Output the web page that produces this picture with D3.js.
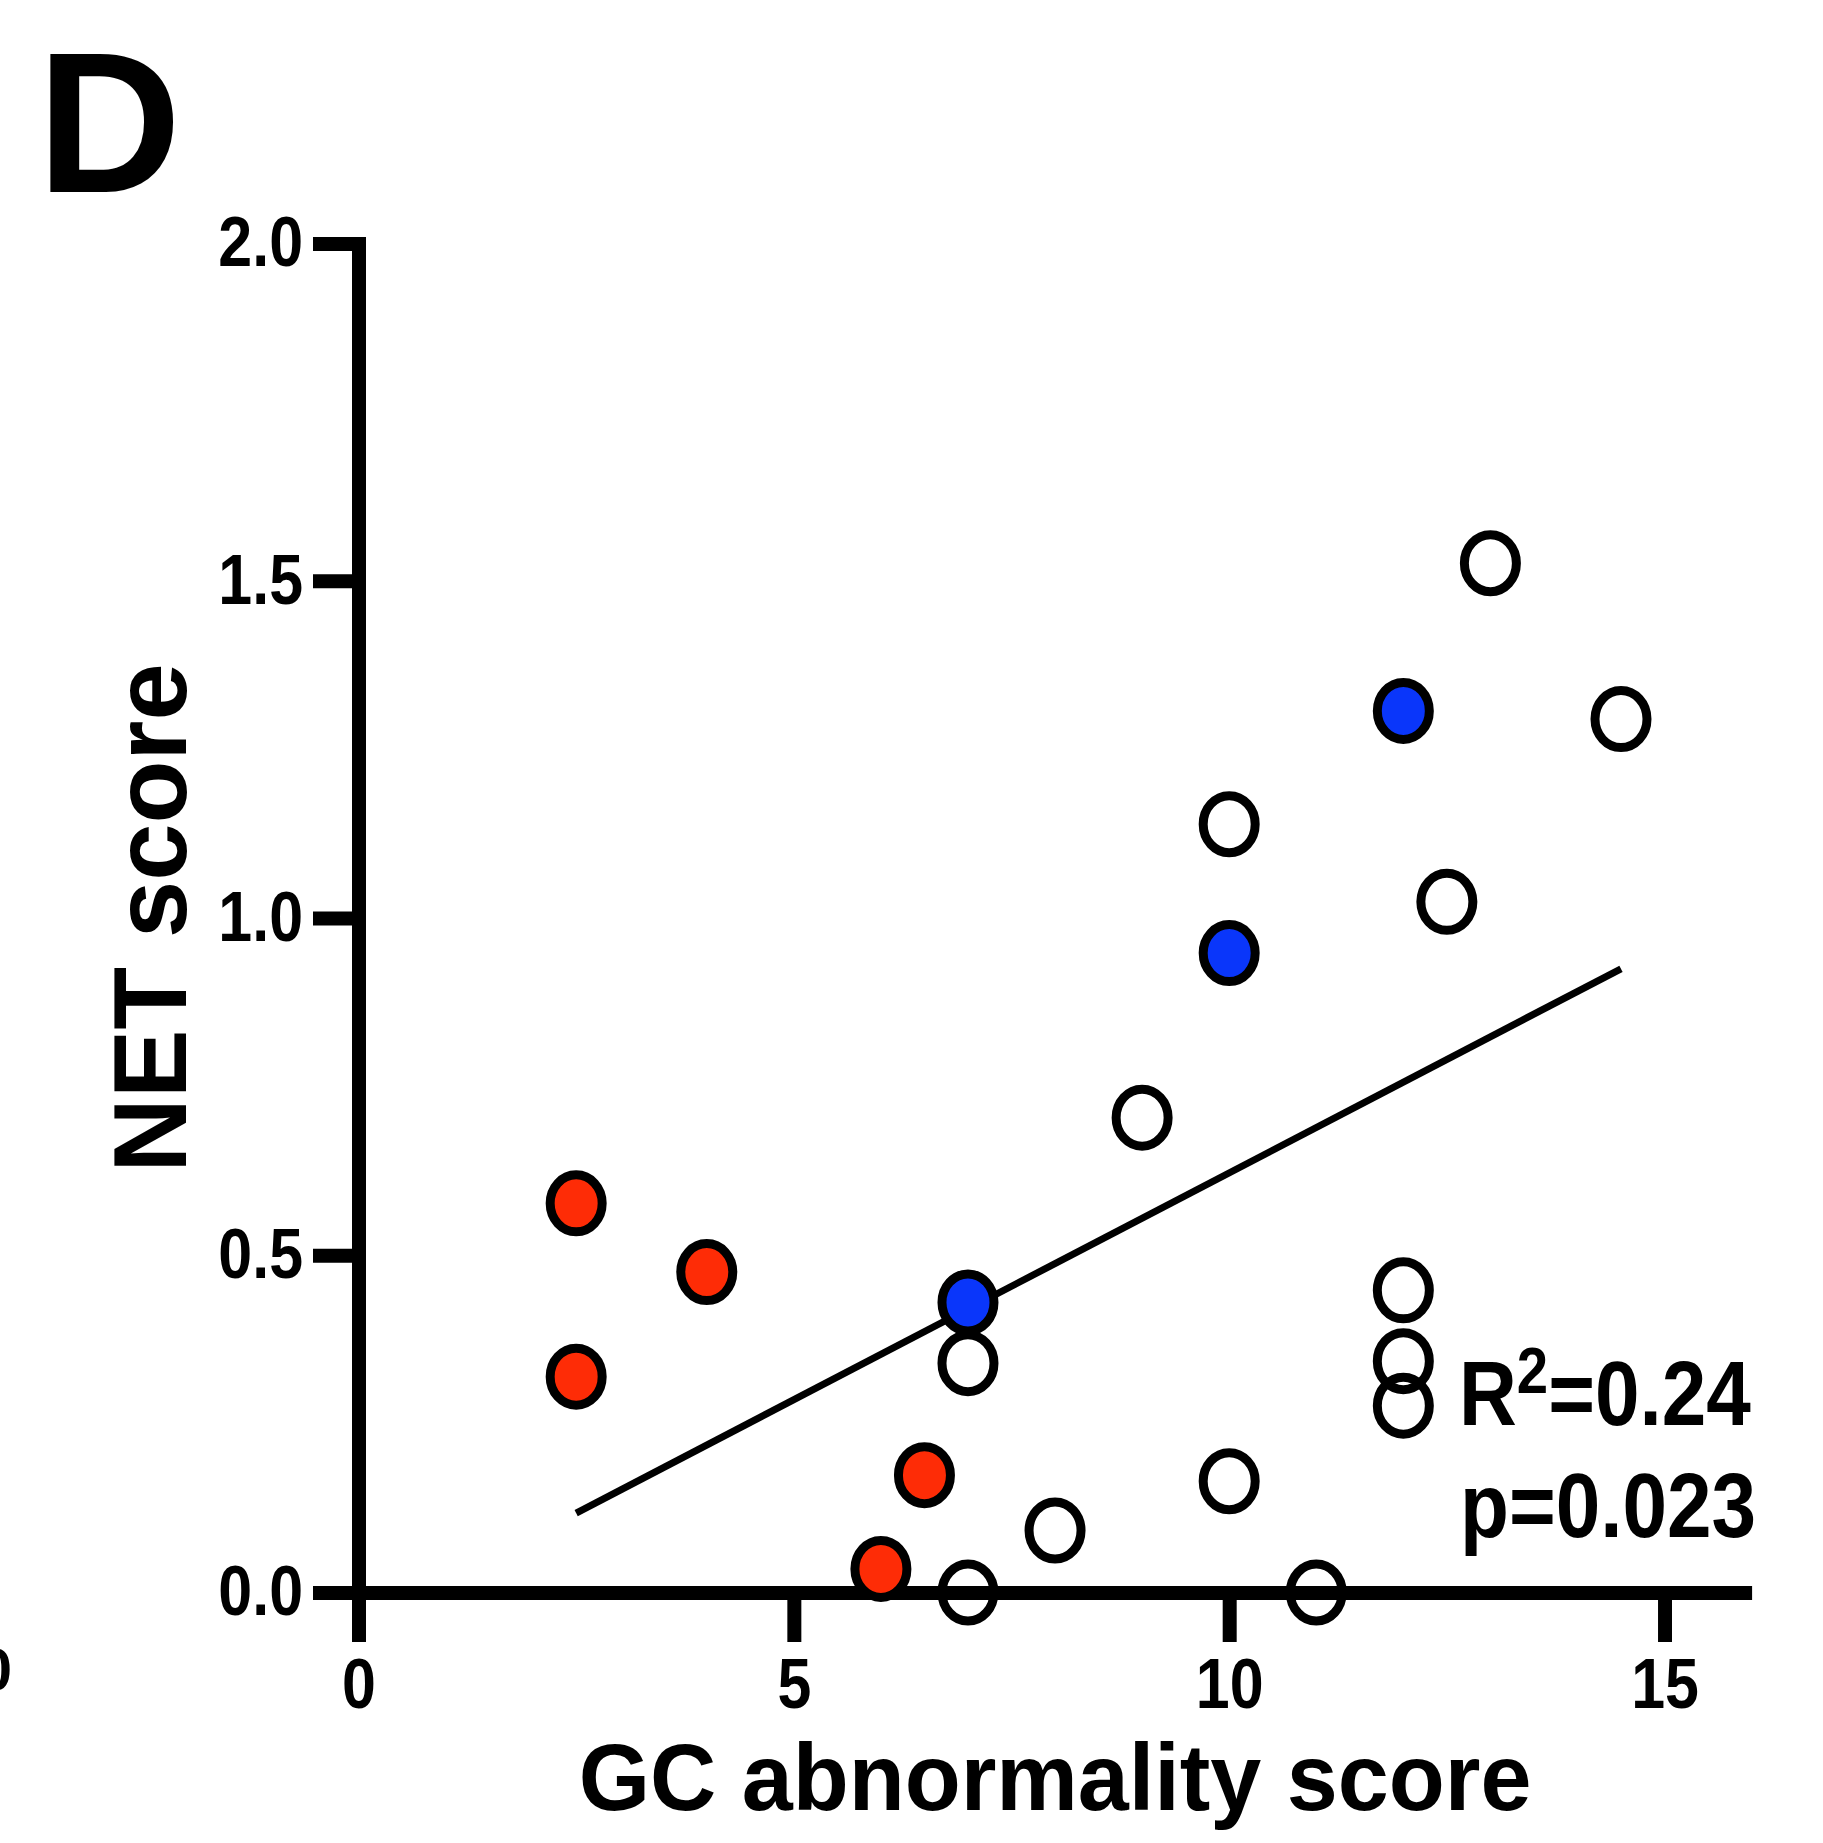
<!DOCTYPE html>
<html>
<head>
<meta charset="utf-8">
<title>NET score vs GC abnormality score</title>
<script src="https://d3js.org/d3.v7.min.js"></script>
<style>
  body { margin: 0; background: #fff; }
  svg text { font-family: "Liberation Sans", Arial, Helvetica, sans-serif; font-weight: bold; fill: #000; }
</style>
</head>
<body>
<div class="scatter-chart"></div>

<script>
  // points, one pair of arrays per group
  const redGC  = [2.5, 4, 2.5, 6.5, 6];
  const redNET = [0.577, 0.475, 0.320, 0.174, 0.035];

  const blueGC  = [12, 10, 7];
  const blueNET = [1.307, 0.948, 0.430];

  const openGC  = [13, 14.5, 10, 12.5, 9, 7, 12, 12, 12, 10, 8, 7, 11];
  const openNET = [1.526, 1.295, 1.139, 1.024, 0.704, 0.340, 0.448, 0.343, 0.277, 0.165, 0.092, 0, 0];

  const xTicks = [0, 5, 10, 15];
  const yTicks = [0, 0.5, 1.0, 1.5, 2.0];
  const statR2 = '0.24';
  const statP  = 'p=0.023';

  const W = 1823, H = 1843;

  const svg = d3.select('.scatter-chart')
    .append('svg')
    .attr('width', W)
    .attr('height', H);

  const x = d3.scaleLinear().domain([0, 16]).range([358.5, 1751.6]);
  const y = d3.scaleLinear().domain([0, 2]).range([1592.5, 243.5]);

  // panel letter
  svg.append('text')
    .attr('x', 37)
    .attr('y', 192)
    .attr('font-size', '200px')
    .text('D');

  // clipped tick label from the neighbouring panel
  svg.append('text')
    .attr('x', 12)
    .attr('y', 1690)
    .attr('text-anchor', 'end')
    .attr('font-size', '60px')
    .text('0');

  // x axis
  const xAxis = svg.append('g')
    .attr('transform', 'translate(0,' + y(0) + ')')
    .call(d3.axisBottom(x).tickValues(xTicks).tickSize(49.5).tickSizeOuter(0).tickPadding(16)
      .tickFormat(d3.format('d')));

  // y axis
  const yAxis = svg.append('g')
    .attr('transform', 'translate(' + x(0) + ',0)')
    .call(d3.axisLeft(y).tickValues(yTicks).tickSize(45.5).tickSizeOuter(0)
      .tickFormat(d3.format('.1f')));

  [xAxis, yAxis].forEach(function(g) {
    g.select('.domain').attr('stroke', '#000').attr('stroke-width', 14);
    g.selectAll('.tick line').attr('stroke', '#000').attr('stroke-width', 14);
    g.selectAll('.tick text').attr('font-size', '70px').attr('fill', '#000')
      .attr('font-family', null);
  });
  yAxis.select('.domain').attr('stroke-linecap', 'square');

  // narrow digits like the original
  xAxis.selectAll('.tick text').attr('transform', 'scale(0.87,1)');
  yAxis.selectAll('.tick text')
    .attr('x', -55.5 / 0.87)
    .attr('transform', 'scale(0.87,1)');

  // axis titles
  svg.append('text')
    .attr('transform', 'translate(186,' + (y(0) + y(2)) / 2 + ') rotate(-90)')
    .attr('text-anchor', 'middle')
    .attr('font-size', '103px')
    .text('NET score');

  svg.append('text')
    .attr('transform', 'translate(' + (x(0) + x(16)) / 2 + ',1810) scale(0.965,1)')
    .attr('text-anchor', 'middle')
    .attr('font-size', '95px')
    .text('GC abnormality score');

  // least squares fit over all points
  const allGC = redGC.concat(blueGC, openGC);
  const allNET = redNET.concat(blueNET, openNET);
  const mx = d3.mean(allGC), my = d3.mean(allNET);
  let sxy = 0, sxx = 0;
  allGC.forEach(function(v, i) {
    sxy += (v - mx) * (allNET[i] - my);
    sxx += (v - mx) * (v - mx);
  });
  const slope = sxy / sxx;
  const icpt = my - slope * mx;
  const fitX = d3.extent(allGC);

  svg.append('line')
    .attr('x1', x(fitX[0]))
    .attr('y1', y(icpt + slope * fitX[0]))
    .attr('x2', x(fitX[1]))
    .attr('y2', y(icpt + slope * fitX[1]))
    .attr('stroke', '#000')
    .attr('stroke-width', 7);

  // dots
  function addDots(xs, ys, fill) {
    svg.append('g').selectAll('ellipse')
      .data(xs)
      .enter()
      .append('ellipse')
      .attr('cx', function(d) { return x(d); })
      .attr('cy', function(d, i) { return y(ys[i]); })
      .attr('rx', 26)
      .attr('ry', 28.5)
      .attr('fill', fill)
      .attr('stroke', '#000')
      .attr('stroke-width', 9);
  }
  addDots(openGC, openNET, 'none');
  addDots(redGC, redNET, '#fe2c06');
  addDots(blueGC, blueNET, '#0a36fa');

  // stats text
  const r2 = svg.append('text')
    .attr('transform', 'translate(1459,1425) scale(0.88,1)')
    .attr('font-size', '91px');
  r2.append('tspan').text('R');
  r2.append('tspan').attr('font-size', '64px').attr('dy', -32).text('2');
  r2.append('tspan').attr('dy', 32).text('=' + statR2);

  svg.append('text')
    .attr('transform', 'translate(1460,1537) scale(0.88,1)')
    .attr('font-size', '91px')
    .text(statP);
</script>
</body>
</html>
